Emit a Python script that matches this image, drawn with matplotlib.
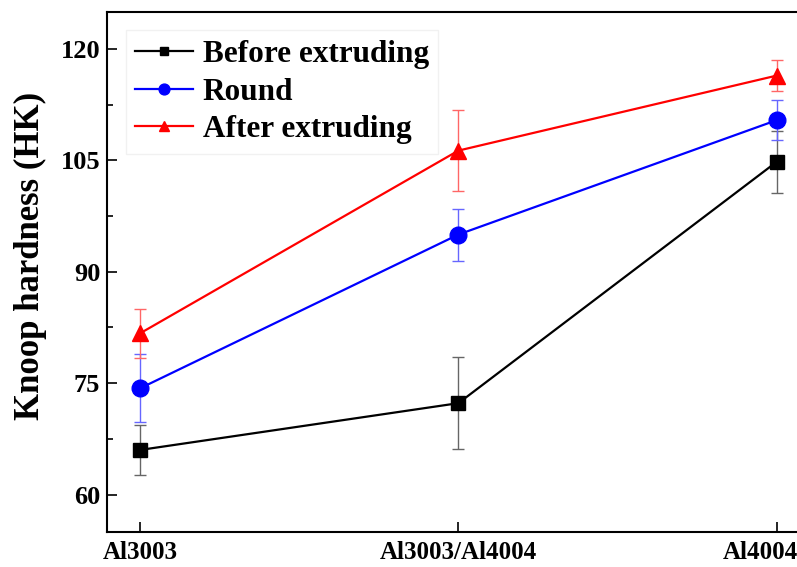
import numpy as np
import matplotlib
matplotlib.use("Agg")
import matplotlib.pyplot as plt
import matplotlib.transforms as mtransforms
from matplotlib.lines import Line2D

plt.rcParams['font.family'] = ['Liberation Serif', 'DejaVu Serif']
plt.rcParams['font.weight'] = 'bold'

categories = ['Al3003', 'Al3003/Al4004', 'Al4004']
before = [66.0, 72.3, 104.8]
before_err = [3.4, 6.2, 4.2]
round_ = [74.3, 95.0, 110.4]
round_err = [4.6, 3.5, 2.7]
after = [81.7, 106.3, 116.4]
after_err = [3.3, 5.4, 2.1]

x = np.arange(len(categories))

fig = plt.figure(figsize=(7.97, 5.67), dpi=100)
ax = fig.add_axes([0.1346, 0.0623, 0.8700, 0.9171])

series = [
    (before, before_err, 'black', '#666666', 's', 9.5, 'Before extruding'),
    (round_, round_err, 'blue', '#6666ff', 'o', 12, 'Round'),
    (after, after_err, 'red', '#ff6666', '^', 12, 'After extruding'),
]
handles = []
for vals, errs, c, ec, m, ms, lab in series:
    ax.errorbar(x, vals, yerr=errs, color=c, ecolor=ec, elinewidth=1.0,
                capsize=4, capthick=1.0, lw=1.6, marker=m, markersize=ms)
    handles.append(Line2D([], [], color=c, lw=1.6, marker=m,
                          markersize=ms * 0.65, label=lab))

ax.set_xlim(-0.103, 2.075)
ax.set_ylim(55, 125)
ax.set_xticks(x)
ax.set_xticklabels(categories, fontsize=18, fontweight='bold')
ax.set_yticks([60, 75, 90, 105, 120])
ax.set_yticks(np.arange(60, 125, 7.5), minor=True)
ax.tick_params(axis='both', direction='in', length=7, width=1.2)
ax.tick_params(axis='y', labelsize=19, pad=5)
ax.tick_params(axis='y', which='minor', direction='in', length=4, width=1.2)
ax.tick_params(axis='x', pad=7)
for lbl in ax.get_yticklabels():
    lbl.set_fontweight('bold')
# last label sits shifted left, as in the cropped original
last = ax.get_xticklabels()[-1]
last.set_transform(last.get_transform() +
                   mtransforms.ScaledTranslation(-16 / 100, 0, fig.dpi_scale_trans))
ax.set_ylabel('Knoop hardness (HK)', fontsize=25, fontweight='bold')
ax.yaxis.set_label_coords(-0.087, 0.53)
for s in ax.spines.values():
    s.set_linewidth(1.5)

leg = ax.legend(handles=handles, loc='upper left', fontsize=22.5, frameon=True,
                fancybox=False, edgecolor='#eeeeee', borderaxespad=0.6,
                borderpad=0.3, handlelength=1.85, handletextpad=0.3,
                labelspacing=0.28)
for t in leg.get_texts():
    t.set_fontweight('bold')

fig.savefig('out.png', dpi=100)
